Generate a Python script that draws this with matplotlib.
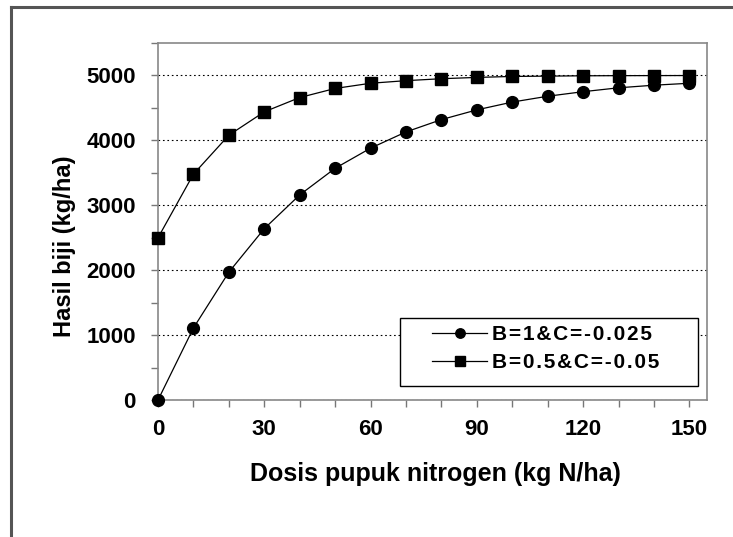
import matplotlib
matplotlib.use("Agg")
import matplotlib.pyplot as plt
from matplotlib.lines import Line2D
from matplotlib.patches import Rectangle
from matplotlib.ticker import MultipleLocator

plt.rcParams['font.family'] = ['Liberation Sans', 'DejaVu Sans']
plt.rcParams['font.weight'] = 'bold'

# dosis pupuk (kg N/ha)
dosis = [0, 10, 20, 30, 40, 50, 60, 70, 80, 90, 100, 110, 120, 130, 140, 150]
# hasil biji (kg/ha)
hasil_b1 = [0, 1110, 1970, 2640, 3160, 3570, 3880, 4130, 4320, 4470, 4590, 4680, 4750, 4810, 4850, 4880]
hasil_b05 = [2500, 3480, 4080, 4440, 4660, 4800, 4880, 4920, 4950, 4970, 4985, 4990, 4995, 4997, 4998, 4999]
label_b1 = "B=1&C=-0.025"
label_b05 = "B=0.5&C=-0.05"


def renggang(teks):
    # huruf legenda agak renggang seperti aslinya
    return "\u200a".join(teks)


fig = plt.figure(figsize=(7.33, 5.37), dpi=100)
ax = fig.add_axes([0.2156, 0.2551, 0.749, 0.6648])

ax.plot(dosis, hasil_b1, color='black', lw=0.9, marker='o', ms=8.5,
        label=renggang(label_b1), clip_on=False, zorder=3)
ax.plot(dosis, hasil_b05, color='black', lw=0.9, marker='s', ms=8.5,
        label=renggang(label_b05), clip_on=False, zorder=3)

ax.set_xlim(0, 155)
ax.set_ylim(0, 5500)
ax.xaxis.set_major_locator(MultipleLocator(30))
ax.xaxis.set_minor_locator(MultipleLocator(10))
ax.yaxis.set_major_locator(MultipleLocator(1000))
ax.yaxis.set_minor_locator(MultipleLocator(500))
ax.yaxis.grid(True, which='major', linestyle=(0, (1.5, 2.5)), color='black', lw=0.8)
ax.set_axisbelow(True)

for s in ax.spines.values():
    s.set_color('#888888')
    s.set_linewidth(1.2)

ax.tick_params(which='both', direction='out', color='#777777', width=1.0,
               length=5, labelsize=16)
ax.tick_params(axis='y', pad=11)
ax.tick_params(axis='x', pad=9)
for lab in ax.get_xticklabels() + ax.get_yticklabels():
    lab.set_fontweight('bold')

ax.set_xlabel("Dosis pupuk nitrogen (kg N/ha)", fontsize=18, fontweight='bold')
ax.xaxis.set_label_coords(0.505, -0.174)
ax.set_ylabel("Hasil biji (kg/ha)", fontsize=17, fontweight='bold')
ax.yaxis.set_label_coords(-0.15, 0.43)

# kotak legenda
ax.add_patch(Rectangle((0.4408, 0.039), 0.5428, 0.1907, transform=ax.transAxes,
                       facecolor='white', edgecolor='black', lw=1.0, zorder=4,
                       clip_on=False))
leg = ax.legend(loc='center left', bbox_to_anchor=(0.499, 0.144), frameon=False,
                fontsize=15, borderpad=0, borderaxespad=0, handlelength=2.65,
                handletextpad=0.25, labelspacing=0.45, markerscale=0.8)
leg.set_zorder(5)
for t in leg.get_texts():
    t.set_fontweight('bold')

# bingkai luar
fig.add_artist(Line2D([0.015, 0.015], [0.0, 0.987], color='#555555', lw=2.2))
fig.add_artist(Line2D([0.015, 1.0], [0.987, 0.987], color='#555555', lw=2.2))

fig.savefig("out.png", dpi=100)
